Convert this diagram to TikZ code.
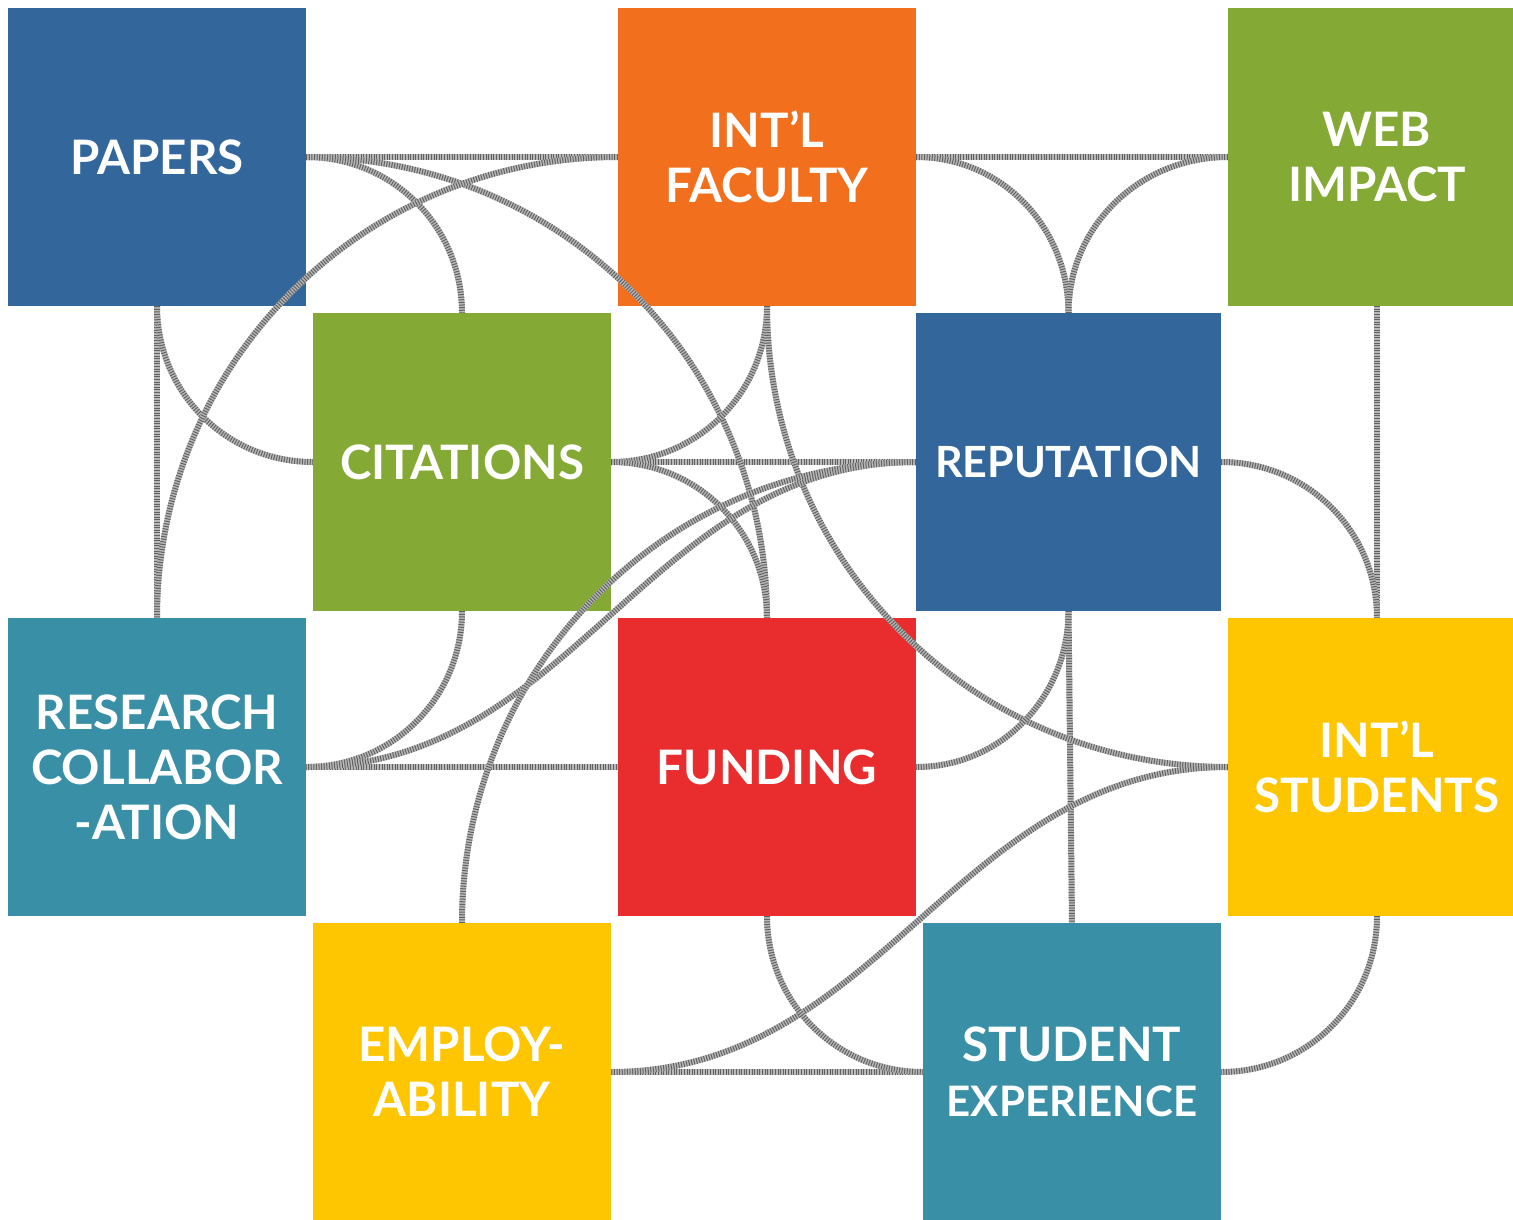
\documentclass[tikz,border=0pt]{standalone}
\usepackage{fontspec}
\setmainfont{Lato}
\usetikzlibrary{positioning}

\definecolor{tileblue}{HTML}{33679C}
\definecolor{tileorange}{HTML}{F26F1D}
\definecolor{tilegreen}{HTML}{85A935}
\definecolor{tileteal}{HTML}{3990A6}
\definecolor{tilered}{HTML}{E92D2F}
\definecolor{tileyellow}{HTML}{FEC600}

\begin{document}
\begin{tikzpicture}[
    x=1pt, y=1pt,
    node distance=305pt and 305pt,
    on grid,
    tile/.style={rectangle, minimum size=298pt, inner sep=0pt, text=white, align=center,
        font=\fontsize{47.5}{55}\selectfont\bfseries},
    stitch/.style={draw=black!28, line width=6pt,
        postaction={draw=black!62, line width=6pt, dash pattern=on 1pt off 1.6pt}},
    every edge/.style={stitch},
]

    \useasboundingbox (0,0) rectangle (1513,-1219);

    \node[tile, fill=tileblue]                            (papers)     at (157,-157) {PAPERS};
    \node[tile, fill=tileorange, right=610pt of papers]   (intlfac)    {INT’L\\FACULTY};
    \node[tile, fill=tilegreen,  right=610pt of intlfac]  (web)        {WEB\\IMPACT};
    \node[tile, fill=tilegreen,  below right=of papers]   (citations)  {CITATIONS};
    \node[tile, fill=tileblue,   right=610pt of citations, xshift=-3.5pt, minimum width=305pt]
                                                          (reputation) {\fontsize{43}{55}\selectfont REPUTATION};
    \node[tile, fill=tileteal,   below=610pt of papers]   (research)   {RESEARCH\\COLLABOR\\-ATION};
    \node[tile, fill=tilered,    right=610pt of research] (funding)    {FUNDING};
    \node[tile, fill=tileyellow, right=610pt of funding]  (intlstu)    {INT’L\\STUDENTS};
    \node[tile, fill=tileyellow, below right=of research] (employ)     {EMPLOY-\\ABILITY};
    \node[tile, fill=tileteal,   right=610pt of employ]   (studexp)    {STUDENT\\{\fontsize{42}{55}\selectfont EXPERIENCE}};

    % straight stitches
    \path
        (papers.east)     edge (intlfac.west)
        (intlfac.east)    edge (web.west)
        (papers.south)    edge (research.north)
        (web.south)       edge (intlstu.north)
        (citations.east)  edge (reputation.west)
        (research.east)   edge (funding.west)
        (reputation.south) edge (studexp.north)
        (employ.east)     edge (studexp.west)
    ;

    % curved stitches
    \path
        (papers.east)      edge [out=0,   in=90]  (citations.north)
        (papers.south)     edge [out=-90, in=180] (citations.west)
        (papers.east)      edge [out=0,   in=90]  (funding.north)
        (intlfac.west)     edge [out=180, in=90]  (research.north)
        (intlfac.south)    edge [out=-90, in=0]   (citations.east)
        (intlfac.south)    edge [out=-90, in=180] (intlstu.west)
        (intlfac.east)     edge [out=0,   in=90]  (reputation.north)
        (web.west)         edge [out=180, in=90]  (reputation.north)
        (reputation.east)  edge [out=0,   in=90]  (intlstu.north)
        (citations.east)   edge [out=0,   in=90]  (funding.north)
        (citations.south)  edge [out=-90, in=0]   (research.east)
        (reputation.west)  edge [out=180, in=0]   (research.east)
        (reputation.west)  edge [out=180, in=90]  (employ.north)
        (reputation.south) edge [out=-90, in=0]   (funding.east)
        (intlstu.west)     edge [out=180, in=0]   (employ.east)
        (funding.south)    edge [out=-90, in=180] (studexp.west)
        (intlstu.south)    edge [out=-90, in=0]   (studexp.east)
    ;
\end{tikzpicture}
\end{document}
